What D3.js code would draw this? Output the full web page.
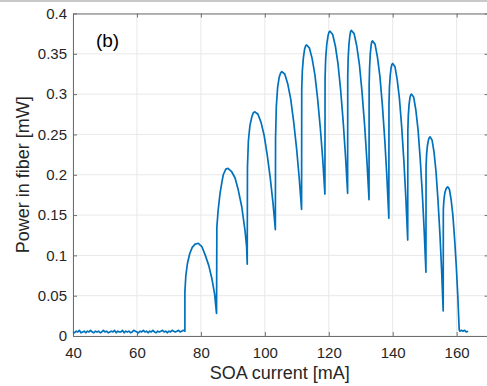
<!DOCTYPE html>
<html>
<head>
<meta charset="utf-8">
<script src="https://cdn.jsdelivr.net/npm/d3@7"></script>
<style>
  html, body { margin: 0; padding: 0; background: #fff; overflow: hidden; }
  svg { display: block; font-family: "Liberation Sans", Arial, Helvetica, sans-serif; }
</style>
</head>
<body>
<svg id="chart" width="487" height="386"></svg>
<script>
// ---- data ----
const xTicks = [40, 60, 80, 100, 120, 140, 160];
const yTicks = [0, 0.05, 0.1, 0.15, 0.2, 0.25, 0.3, 0.35, 0.4];
const yTickLabels = ["0", "0.05", "0.1", "0.15", "0.2", "0.25", "0.3", "0.35", "0.4"];

// noisy floor below threshold
const baselineCurrent = [40,40.5,41,41.5,42,42.5,43,43.5,44,44.5,45,45.5,46,46.5,47,47.5,48,48.5,49,49.5,
  50,50.5,51,51.5,52,52.5,53,53.5,54,54.5,55,55.5,56,56.5,57,57.5,58,58.5,59,59.5,
  60,60.5,61,61.5,62,62.5,63,63.5,64,64.5,65,65.5,66,66.5,67,67.5,68,68.5,69,69.5,
  70,70.5,71,71.5,72,72.5,73,73.5,74,74.5,75];
const baselinePower = [0.005,0.004,0.006,0.005,0.007,0.004,0.005,0.006,0.004,0.006,
  0.005,0.007,0.005,0.004,0.006,0.005,0.006,0.004,0.005,0.007,
  0.005,0.006,0.004,0.005,0.006,0.005,0.007,0.004,0.006,0.005,
  0.005,0.007,0.004,0.006,0.005,0.006,0.004,0.005,0.007,0.006,
  0.005,0.004,0.006,0.005,0.007,0.005,0.006,0.004,0.006,0.005,
  0.007,0.005,0.004,0.006,0.005,0.006,0.007,0.005,0.006,0.004,
  0.006,0.005,0.007,0.006,0.005,0.006,0.007,0.005,0.006,0.007,0.006];

// mode-hop lobes above threshold
const lobeCurrent = [
  75.0, 75.3, 75.8, 76.5, 77.3, 78.2, 79.2, 80.3, 81.4, 82.5, 83.5, 84.3, 84.9,
  85.0, 85.4, 86.0, 86.5, 87.0, 87.8, 88.5, 89.6, 90.7, 91.7, 92.8, 93.8, 94.3, 94.5,
  94.57, 94.86, 95.34, 95.94, 96.42, 96.9, 97.86, 98.82, 99.78, 100.74, 101.7, 102.53, 103.3,
  103.36, 103.6, 104.0, 104.5, 104.9, 105.3, 106.23, 107.16, 108.09, 109.02, 109.95, 110.76, 111.5,
  111.55, 111.74, 112.06, 112.46, 112.78, 113.1, 113.96, 114.81, 115.67, 116.52, 117.38, 118.12, 118.8,
  118.85, 119.04, 119.36, 119.76, 120.08, 120.4, 121.23, 122.05, 122.88, 123.7, 124.53, 125.24, 125.9,
  125.94, 126.08, 126.32, 126.62, 126.86, 127.1, 127.93, 128.75, 129.58, 130.4, 131.23, 131.94, 132.6,
  132.63, 132.77, 132.99, 133.26, 133.48, 133.7, 134.47, 135.23, 136.0, 136.76, 137.53, 138.19, 138.8,
  138.84, 138.98, 139.22, 139.52, 139.76, 140.0, 140.71, 141.41, 142.12, 142.82, 143.53, 144.14, 144.7,
  144.74, 144.88, 145.12, 145.42, 145.66, 145.9, 146.58, 147.25, 147.93, 148.6, 149.28, 149.86, 150.4,
  150.44, 150.6, 150.86, 151.18, 151.44, 151.7, 152.32, 152.93, 153.55, 154.16, 154.78, 155.31, 155.8,
  155.84, 156.01, 156.29, 156.64, 156.92, 157.2, 157.74, 158.28, 158.82, 159.36, 159.9, 160.37, 160.8,
  161.0, 161.5, 162.0, 162.5, 163.0, 163.6];
const lobePower = [
  0.055, 0.075, 0.090, 0.102, 0.110, 0.114, 0.115, 0.111, 0.100, 0.087, 0.070, 0.052, 0.028,
  0.135, 0.156, 0.177, 0.189, 0.200, 0.207, 0.208, 0.204, 0.196, 0.181, 0.160, 0.131, 0.111, 0.089,
  0.209, 0.242, 0.261, 0.272, 0.277, 0.278, 0.275, 0.265, 0.249, 0.225, 0.196, 0.166, 0.132,
  0.246, 0.285, 0.308, 0.321, 0.326, 0.328, 0.325, 0.313, 0.294, 0.266, 0.232, 0.196, 0.157,
  0.307, 0.329, 0.345, 0.356, 0.360, 0.361, 0.357, 0.344, 0.324, 0.294, 0.257, 0.219, 0.176,
  0.321, 0.344, 0.361, 0.372, 0.377, 0.378, 0.374, 0.360, 0.338, 0.306, 0.265, 0.223, 0.177,
  0.322, 0.345, 0.362, 0.373, 0.378, 0.379, 0.375, 0.360, 0.337, 0.303, 0.261, 0.217, 0.169,
  0.311, 0.333, 0.350, 0.361, 0.365, 0.366, 0.362, 0.346, 0.322, 0.287, 0.243, 0.197, 0.146,
  0.287, 0.308, 0.323, 0.333, 0.337, 0.338, 0.334, 0.318, 0.294, 0.259, 0.215, 0.169, 0.119,
  0.255, 0.273, 0.287, 0.296, 0.299, 0.300, 0.296, 0.280, 0.256, 0.220, 0.176, 0.130, 0.079,
  0.210, 0.225, 0.236, 0.243, 0.246, 0.247, 0.243, 0.228, 0.204, 0.169, 0.126, 0.081, 0.031,
  0.157, 0.168, 0.177, 0.182, 0.184, 0.185, 0.182, 0.169, 0.150, 0.121, 0.086, 0.049, 0.008,
  0.006, 0.007, 0.006, 0.007, 0.005, 0.006];

const xLabel = "SOA current [mA]";
const yLabel = "Power in fiber [mW]";
const panelLabel = "(b)";

// ---- drawing ----
const svg = d3.select("#chart");
const mLeft = 73, mRight = 488.6, mTop = 13.5, mBottom = 336;
const x = d3.scaleLinear().domain([40, 170]).range([mLeft, mRight]);
const y = d3.scaleLinear().domain([0, 0.4]).range([mBottom, mTop]);

// window frame strip at top
svg.append("rect").attr("x", 0).attr("y", 0).attr("width", 487).attr("height", 2).attr("fill", "#c9c9c9");

// grid
const grid = svg.append("g").attr("stroke", "#e8e8e8").attr("stroke-width", 1);
xTicks.forEach(t => grid.append("line").attr("x1", x(t)).attr("x2", x(t)).attr("y1", mTop).attr("y2", mBottom));
yTicks.forEach(t => grid.append("line").attr("x1", mLeft).attr("x2", mRight).attr("y1", y(t)).attr("y2", y(t)));

// axes
const axisColor = "#6e6e6e";
const xAxis = svg.append("g").attr("transform", `translate(0,${mBottom})`)
  .call(d3.axisBottom(x).tickValues(xTicks).tickSizeInner(-4).tickSizeOuter(0).tickPadding(11));
const yAxis = svg.append("g").attr("transform", `translate(${mLeft},0)`)
  .call(d3.axisLeft(y).tickValues(yTicks).tickFormat((d, i) => yTickLabels[i]).tickSizeInner(-4).tickSizeOuter(0).tickPadding(6));
const xTop = svg.append("g").attr("transform", `translate(0,${mTop})`)
  .call(d3.axisTop(x).tickValues(xTicks).tickSizeInner(-4).tickSizeOuter(0).tickFormat(""));
const yRight = svg.append("g").attr("transform", `translate(${mRight},0)`)
  .call(d3.axisRight(y).tickValues(yTicks).tickSizeInner(-4).tickSizeOuter(0).tickFormat(""));
[xAxis, yAxis, xTop, yRight].forEach(g => {
  g.select(".domain").attr("stroke", axisColor).attr("stroke-width", 1);
  g.selectAll(".tick line").attr("stroke", axisColor);
  g.selectAll(".tick text").attr("fill", "#262626").style("font-size", "15px")
    .style("font-family", '"Liberation Sans", Arial, sans-serif');
});

// trace
const pts = baselineCurrent.map((c, i) => [c, baselinePower[i]])
  .concat(lobeCurrent.map((c, i) => [c, lobePower[i]]));
const line = d3.line().x(d => x(d[0])).y(d => y(d[1]));
svg.append("path").datum(pts).attr("d", line)
  .attr("fill", "none").attr("stroke", "#0072BD").attr("stroke-width", 1.7)
  .attr("stroke-linejoin", "round");

// labels
svg.append("text").attr("x", (mLeft + mRight) / 2 - 1).attr("y", 379).attr("text-anchor", "middle")
  .attr("fill", "#262626").style("font-size", "18px").text(xLabel);
svg.append("text").attr("transform", `translate(29,${(mTop + mBottom) / 2}) rotate(-90)`)
  .attr("text-anchor", "middle").attr("fill", "#262626").style("font-size", "18px").text(yLabel);
svg.append("text").attr("x", 107.5).attr("y", 47).attr("text-anchor", "middle")
  .attr("fill", "#000").style("font-size", "19px").text(panelLabel);
</script>
</body>
</html>
